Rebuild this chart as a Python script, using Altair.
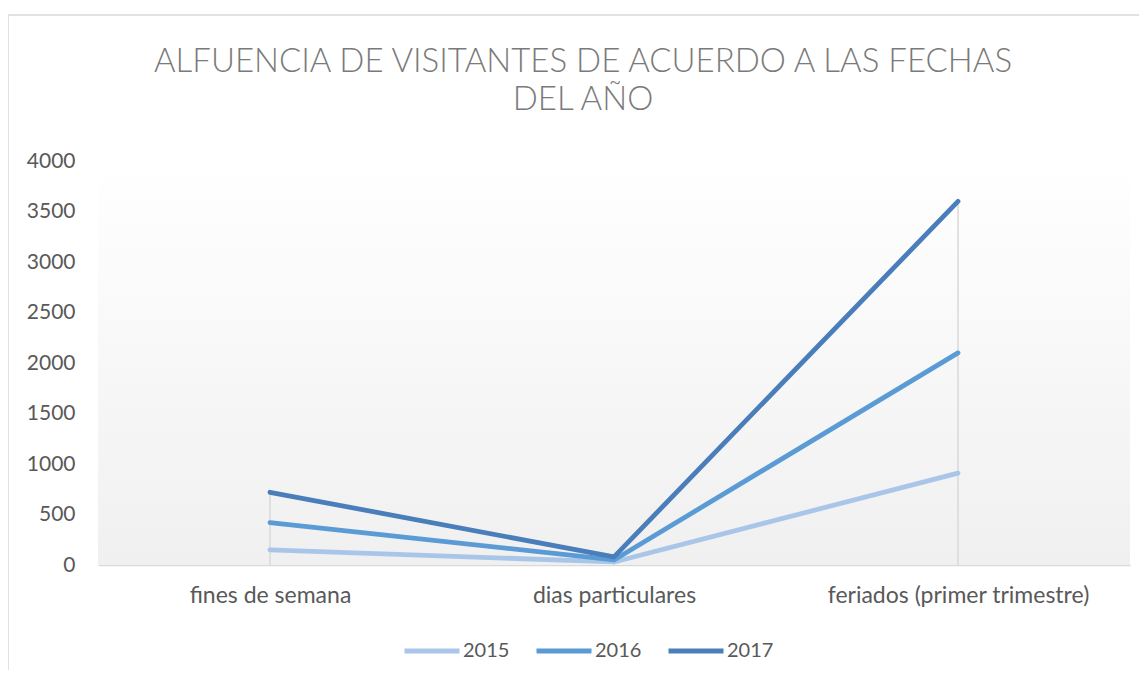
import altair as alt
import pandas as pd

categories = ["fines de semana", "dias particulares", "feriados (primer trimestre)"]
years = ["2015", "2016", "2017"]
v2015 = [150, 30, 910]
v2016 = [420, 50, 2100]
v2017 = [720, 80, 3600]
colors = ["#A9C6E9", "#5B9BD5", "#4A7EBB"]
y_ticks = [0, 500, 1000, 1500, 2000, 2500, 3000, 3500, 4000]

rows = []
for yr, vals in zip(years, [v2015, v2016, v2017]):
    for c, v in zip(categories, vals):
        rows.append({"cat": c, "year": yr, "value": v})
df = pd.DataFrame(rows)
drop = pd.DataFrame({"cat": categories,
                     "top": [max(a, b, c) for a, b, c in zip(v2015, v2016, v2017)]})

W, H = 1032, 404
FONT = "Lato"

x = alt.X("cat:N", sort=categories, title=None,
          scale=alt.Scale(type="point", padding=0.5),
          axis=alt.Axis(labelAngle=0, labelFontSize=23, labelColor="#595959",
                        labelFont=FONT, labelPadding=19, ticks=False, labelLimit=0,
                        domainColor="#D9D9D9", domainWidth=1.5, grid=False))
y_scale = alt.Scale(domain=[0, 4000], nice=False)

one = pd.DataFrame({"k": [0]})
bg = alt.Chart(one).mark_rect(
    color=alt.LinearGradient(gradient="linear", x1=0, y1=0, x2=0, y2=1,
                             stops=[alt.GradientStop(offset=0, color="#FFFFFF"),
                                    alt.GradientStop(offset=1, color="#F0F0F0")])
).encode(x=alt.value(0), x2=alt.value(W), y=alt.value(0), y2=alt.value(H))

drops = alt.Chart(drop).mark_rule(color="#D9D9D9", strokeWidth=1.5).encode(
    x=x,
    y=alt.Y("top:Q", scale=y_scale),
    y2=alt.datum(0),
)

lines = alt.Chart(df).mark_line(strokeWidth=4.8, strokeCap="round", strokeJoin="round").encode(
    x=x,
    y=alt.Y("value:Q", scale=y_scale, title=None,
            axis=alt.Axis(values=y_ticks, format="d", labelFontSize=21, labelColor="#595959",
                          labelFont=FONT, labelPadding=23, ticks=False, domain=False,
                          grid=False)),
    color=alt.Color("year:N", sort=years,
                    scale=alt.Scale(domain=years, range=colors),
                    legend=alt.Legend(title=None, orient="none", direction="horizontal",
                                      legendX=304, legendY=460,
                                      symbolType="stroke", symbolSize=3025,
                                      symbolStrokeWidth=4.8, labelFontSize=20,
                                      labelColor="#595959", labelFont=FONT,
                                      labelOffset=1, columnPadding=16)),
)

border = alt.Chart(one).mark_rule(color="#D9D9D9", strokeWidth=1.5).encode(
    x=alt.value(-90), y=alt.value(-146), y2=alt.value(H + 120))
border_top = alt.Chart(one).mark_rule(color="#D9D9D9", strokeWidth=1.5).encode(
    x=alt.value(-90), x2=alt.value(W + 40), y=alt.value(-146))

chart = alt.layer(bg, border, border_top, drops, lines).properties(
    width=W, height=H,
    autosize=alt.AutoSizeParams(type="none"),
    padding={"left": 90, "top": 153, "right": 9, "bottom": 105},
    title=alt.Title(
        text=["ALFUENCIA DE VISITANTES DE ACUERDO A LAS FECHAS", "DEL AÑO"],
        font=FONT, fontSize=33, fontWeight=300, color="#7A7A7A",
        anchor="middle", dx=-31, offset=0, dy=103, lineHeight=38,
    ),
).configure_view(stroke=None)

chart.save("out.html", embed_options={"renderer": "svg", "actions": False})
